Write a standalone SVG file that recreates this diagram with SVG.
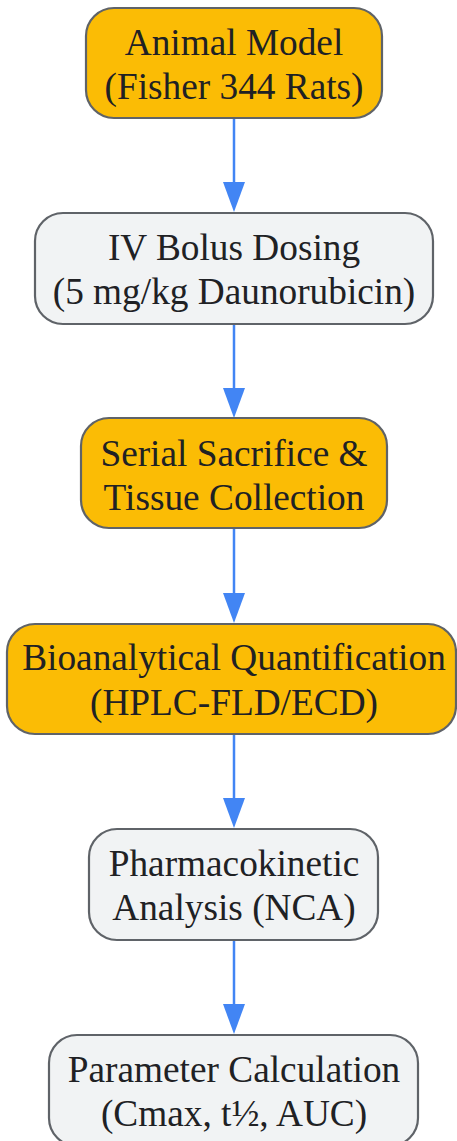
<svg xmlns="http://www.w3.org/2000/svg" width="457" height="1141" viewBox="0 0 457 1141">
<style>
.box{stroke:#5f6368;stroke-width:2.2}
.hi{fill:#fbbc05}
.lo{fill:#f1f3f4}
.t{font-family:"Liberation Serif","Times New Roman",serif;font-size:37.3px;fill:#202124;text-anchor:middle}
.edge{stroke:#4285f4;stroke-width:2.5;fill:none}
.head{fill:#4285f4}
</style>
<rect width="457" height="1141" fill="#ffffff"/>
<g id="connectors">
<line class="edge" x1="234" y1="118" x2="234" y2="185"/>
<polygon class="head" points="223,182 245,182 234,212"/>
<line class="edge" x1="234" y1="324" x2="234" y2="392"/>
<polygon class="head" points="223,388 245,388 234,418"/>
<line class="edge" x1="234" y1="528" x2="234" y2="597"/>
<polygon class="head" points="223,593 245,593 234,623"/>
<line class="edge" x1="234" y1="734" x2="234" y2="802"/>
<polygon class="head" points="223,798 245,798 234,828"/>
<line class="edge" x1="234" y1="940" x2="234" y2="1008"/>
<polygon class="head" points="223,1004 245,1004 234,1034"/>
</g>
<g id="n1">
<rect class="box hi" x="86" y="8" width="296" height="110" rx="28"/>
<text class="t" x="234" y="55">Animal Model</text>
<text class="t" x="234" y="99">(Fisher 344 Rats)</text>
</g>
<g id="n2">
<rect class="box lo" x="35" y="213" width="398" height="111" rx="28"/>
<text class="t" x="234" y="260">IV Bolus Dosing</text>
<text class="t" x="234" y="304">(5 mg/kg Daunorubicin)</text>
</g>
<g id="n3">
<rect class="box hi" x="81" y="418" width="306" height="110" rx="28"/>
<text class="t" x="234" y="466">Serial Sacrifice &amp;</text>
<text class="t" x="234" y="510">Tissue Collection</text>
</g>
<g id="n4">
<rect class="box hi" x="7" y="624" width="449" height="110" rx="28"/>
<text class="t" x="234" y="670">Bioanalytical Quantification</text>
<text class="t" x="234" y="715">(HPLC-FLD/ECD)</text>
</g>
<g id="n5">
<rect class="box lo" x="89" y="829" width="289" height="111" rx="28"/>
<text class="t" x="234" y="876">Pharmacokinetic</text>
<text class="t" x="234" y="920">Analysis (NCA)</text>
</g>
<g id="n6">
<rect class="box lo" x="49" y="1035" width="369" height="111" rx="28"/>
<text class="t" x="234" y="1082">Parameter Calculation</text>
<text class="t" x="234" y="1126">(Cmax, t½, AUC)</text>
</g>
</svg>
